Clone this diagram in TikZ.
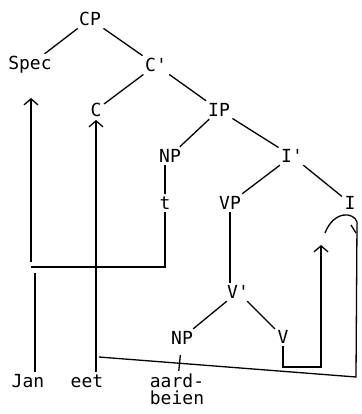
\documentclass[tikz,border=0pt]{standalone}
\usepackage{fontspec}
\setmonofont{DejaVu Sans Mono}
\usetikzlibrary{positioning}
\usetikzlibrary{arrows.meta}

\begin{document}
\begin{tikzpicture}[x=1pt, y=-1pt, line width=1.3pt,
	cat/.style={font=\ttfamily\fontsize{18}{17}\selectfont, inner sep=2pt},
	mv/.style={-{Straight Barb[length=6pt,width=14pt]}}]
	\useasboundingbox (0,0) rectangle (361,414);
	% the tree
	\node[cat] (CP) at (90,19) {CP};
	\node[cat] (Spec) at (30,65) {Spec};
	\node[cat] (Cbar) at (156,65) {C'};
	\node[cat] (C) at (96,110) {C};
	\node[cat] (IP) at (219,110) {IP};
	\node[cat] (NP) at (170,156) {NP};
	\node[cat] (Ibar) at (292,156) {I'};
	\node[cat] (t) at (165,203) {t};
	\node[cat] (VP) at (230,203) {VP};
	\node[cat] (I) at (350,203) {I};
	\node[cat] (Vbar) at (238,292) {V'};
	\node[cat] (NPo) at (182,338) {NP};
	\node[cat] (V) at (283,337) {V};
	% the words
	\node[cat] (Jan) at (28,381) {Jan};
	\node[cat] (eet) at (87,381) {eet};
	\node[cat, align=center] (aard) at (177,389) {aard-\\beien};
	\draw (CP) -- (Spec);
	\draw (CP) -- (Cbar);
	\draw (Cbar) -- (C);
	\draw (Cbar) -- (IP);
	\draw (IP) -- (NP);
	\draw (IP) -- (Ibar);
	\draw (t |- NP.south) -- (t);
	\draw (Ibar) -- (VP);
	\draw (Ibar) -- (I);
	\draw (VP) -- (VP |- Vbar.north);
	\draw (Vbar) -- (NPo);
	\draw (Vbar) -- (V);
	\draw[shorten <=8pt] (NPo) -- (aard);
	% movement
	\coordinate (tend) at (31,267);
	\coordinate (specfoot) at (31,262);
	\coordinate (spectip) at (31,98);
	\coordinate (janfoot) at (35,273);
	\coordinate (ctip) at (96,120);
	\coordinate (vcorner) at (321,367);
	\coordinate (itip) at (321,245);
	\coordinate (eetjoin) at (99,357);
	\coordinate (rbottom) at (356,377);
	\coordinate (rtop) at (357,222);
	\coordinate (arcend) at (325,233);
	\draw (t) |- (tend);
	\draw[mv] (specfoot) -- (spectip);
	\draw (janfoot |- Jan.north) -- (janfoot);
	\draw[mv] (ctip |- eet.north) -- (ctip);
	\draw[mv] (V) |- (vcorner) -- (itip);
	\draw (eetjoin) -- (rbottom) -- (rtop) .. controls (354,212) and (334,210) .. (arcend);
	\draw (351,225) -- (356,233);
\end{tikzpicture}
\end{document}
